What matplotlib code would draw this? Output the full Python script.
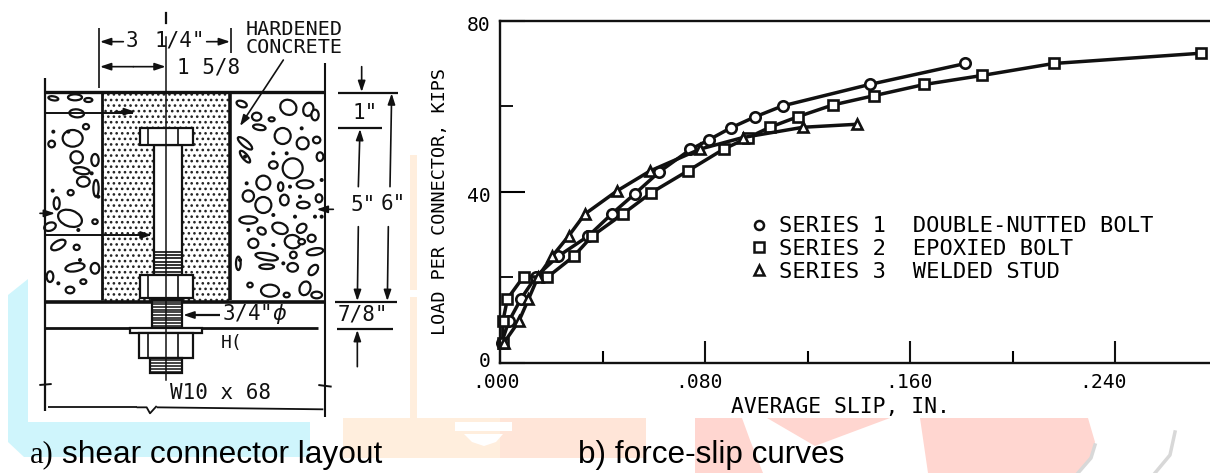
import matplotlib
matplotlib.use('Agg')
import matplotlib.pyplot as plt
from matplotlib.patches import Ellipse, Polygon, Rectangle
from matplotlib.lines import Line2D
from matplotlib.ticker import MultipleLocator
from matplotlib.transforms import ScaledTranslation

MONO = 'DejaVu Sans Mono'
plt.rcParams['hatch.linewidth'] = 1.1

# curvas carga-deslizamiento
slip_1 = [.0006, .0034, .0082, .0140, .0226, .0345, .0437, .0527, .0622, .0743,
          .0816, .0902, .0994, .1103, .1442, .1816]
load_1 = [4.7, 9.7, 15.0, 20.2, 24.9, 29.7, 34.9, 39.6, 44.7, 49.9, 52.2, 55.0,
          57.5, 60.1, 65.1, 70.0]
slip_2 = [.0011, .0011, .0029, .0092, .0184, .0287, .0360, .0481, .0590, .0733,
          .0873, .0969, .1053, .1164, .1298, .1461, .1656, .1881, .2160, .2735]
load_2 = [4.7, 9.7, 15.0, 20.2, 20.0, 24.9, 29.7, 34.9, 39.8, 44.9, 50.0, 52.7,
          55.1, 57.6, 60.3, 62.5, 65.1, 67.2, 70.0, 72.4]
slip_3 = [.0015, .0073, .0111, .0149, .0203, .0268, .0331, .0456, .0586, .0781,
          .0948, .1183, .1394]
load_3 = [4.7, 9.7, 14.9, 20.2, 24.9, 29.7, 34.8, 40.2, 44.9, 50.0, 52.7, 55.1, 55.8]

series_labels = ['SERIES 1  DOUBLE-NUTTED BOLT', 'SERIES 2  EPOXIED BOLT', 'SERIES 3  WELDED STUD']
series_markers = ['o', 's', '^']

x_major = [0, .08, .16, .24]
x_major_labels = ['.000', '.080', '.160', '.240']
y_major = [0, 40, 80]

# aridos del hormigon: x, y, ancho, alto, angulo (coordenadas del dibujo)
stones = [
    (225, 292, 42, 18, 0), (160, 295, 30, 12, 10), (230, 340, 44, 24, 5), (265, 300, 24, 12, 0),
    (218, 415, 60, 50, 0), (258, 380, 18, 16, 0), (155, 432, 20, 20, 0), (230, 472, 38, 36, 30),
    (245, 512, 48, 20, 10), (250, 545, 38, 30, 0), (285, 480, 22, 36, 0), (212, 578, 18, 16, 0),
    (210, 655, 74, 48, 20), (150, 680, 36, 24, -20), (285, 665, 16, 14, 0), (170, 610, 18, 36, 0),
    (175, 735, 48, 24, -30), (230, 742, 18, 16, 0), (225, 802, 58, 24, -10), (285, 805, 26, 32, 0),
    (250, 845, 18, 14, 0), (210, 870, 26, 20, 0), (150, 830, 20, 32, 0), (288, 565, 16, 50, 0),
    (865, 322, 50, 44, 30), (925, 328, 30, 40, 15), (770, 350, 28, 24, 0), (725, 312, 32, 18, 20),
    (848, 408, 48, 48, 0), (908, 430, 36, 36, 20), (778, 382, 38, 16, 10), (815, 358, 18, 12, 0),
    (878, 505, 60, 60, 30), (915, 553, 50, 24, 0), (790, 548, 42, 42, 0), (842, 560, 16, 26, 0),
    (745, 588, 34, 34, 0), (790, 615, 48, 48, 0), (853, 600, 26, 32, 0), (910, 615, 38, 20, 0),
    (745, 660, 54, 22, 0), (840, 685, 48, 32, 20), (905, 685, 32, 24, -40), (785, 693, 26, 20, 30),
    (878, 725, 48, 40, 10), (935, 715, 24, 22, 0), (760, 730, 30, 28, 0), (945, 755, 50, 20, -10),
    (800, 770, 68, 20, 10), (880, 765, 20, 20, 0), (800, 800, 44, 14, 0), (878, 802, 32, 26, 0),
    (940, 810, 36, 22, -50), (810, 872, 54, 36, 0), (915, 865, 32, 42, 20), (750, 855, 16, 14, 0),
    (950, 885, 32, 20, 0), (860, 885, 18, 14, 0), (735, 470, 16, 44, -40), (735, 430, 54, 18, 40),
    (945, 345, 22, 32, 0), (820, 495, 26, 22, 0), (960, 470, 20, 26, 0), (950, 420, 22, 20, 0),
    (905, 725, 20, 16, 0), (715, 790, 14, 40, 0), (957, 595, 20, 24, 0),
]
grains = [
    (160, 395), (275, 520), (235, 690), (158, 572), (205, 395), (295, 590), (240, 780), (175, 850),
    (740, 550), (820, 460), (860, 460), (945, 650), (820, 645), (885, 650), (850, 790), (745, 690),
    (820, 735), (965, 540), (735, 470), (905, 385), (720, 780), (965, 650), (900, 590), (870, 560),
]

fig = plt.figure(figsize=(12.1, 4.73), dpi=100, facecolor='white')

# fondo: manchas de la marca de agua
bg = fig.add_axes([0, 0, 1, 1], zorder=0)
bg.set_xlim(0, 1210)
bg.set_ylim(473, 0)
bg.axis('off')
bg.add_patch(Polygon([(28, 279), (8, 295), (8, 442), (24, 457), (310, 457), (310, 422), (28, 422)],
                     fc='#cff5fc', ec='none'))
bg.add_patch(Rectangle((343, 418), 200, 40, fc='#ffeedd', ec='none'))
bg.add_patch(Rectangle((500, 418), 146, 40, fc='#ffe5d8', ec='none'))
bg.add_patch(Rectangle((410, 155), 7, 135, fc='#ffeedd', ec='none'))
bg.add_patch(Rectangle((410, 297), 7, 125, fc='#ffeedd', ec='none'))
bg.add_patch(Rectangle((455, 422), 57, 9, fc='white', ec='none'))
bg.add_patch(Polygon([(464, 434), (503, 434), (496, 442), (484, 446), (472, 442)], fc='white', ec='none'))
bg.add_patch(Polygon([(695, 418), (742, 418), (750, 440), (763, 473), (695, 473)], fc='#ffd6d0', ec='none'))
bg.add_patch(Polygon([(767, 418), (890, 418), (815, 446)], fc='#ffd6d0', ec='none'))
bg.add_patch(Polygon([(920, 418), (1088, 418), (1095, 442), (1090, 458), (1078, 473), (928, 473)],
                     fc='#ffd6d0', ec='none'))
bg.plot([1095, 1091, 1078], [445, 458, 473], color='#d8d8d8', lw=2.5)
bg.plot([1175, 1170, 1155], [432, 455, 473], color='#d8d8d8', lw=2.5)

# b) curvas
ax = fig.add_axes([500 / 1210, 1 - 363 / 473, 710 / 1210, (363 - 20.7) / 473], zorder=3)
ax.patch.set_alpha(0)
for s, l, m in zip([slip_1, slip_2, slip_3], [load_1, load_2, load_3], series_markers):
    ax.plot(s, l, color='#111111', lw=2.5, marker=m, ms=7.5, mfc='white', mec='#111111', mew=1.9,
            clip_on=False)
ax.set_xlim(0, .277)
ax.set_ylim(0, 80)
ax.spines['right'].set_visible(False)
for s in ['top', 'left', 'bottom']:
    ax.spines[s].set_linewidth(1.7)
    ax.spines[s].set_color('#111111')
ax.set_xticks(x_major, x_major_labels, fontfamily=MONO, fontsize=14.2)
ax.set_yticks(y_major, ['0', '40', '80'], fontfamily=MONO, fontsize=14.2)
ax.xaxis.set_minor_locator(MultipleLocator(.04))
ax.yaxis.set_minor_locator(MultipleLocator(20))
ax.tick_params(axis='x', which='major', direction='in', length=16, width=1.5, pad=7, color='#111111')
ax.tick_params(axis='x', which='minor', direction='in', length=9, width=1.5)
ax.tick_params(axis='y', which='major', direction='in', length=18, width=1.5, pad=7)
ax.tick_params(axis='y', which='minor', direction='in', length=9, width=1.3)

# los rotulos del original no caen justo bajo sus marcas (desplazamientos en pixeles)
for lab, dx in zip(ax.get_xticklabels(), [-4, -6, -1, -12]):
    lab.set_transform(lab.get_transform() + ScaledTranslation(dx / 100, 0, fig.dpi_scale_trans))
for lab, dy in zip(ax.get_yticklabels(), [4, -3, -3]):
    lab.set_transform(lab.get_transform() + ScaledTranslation(0, dy / 100, fig.dpi_scale_trans))

ax.set_xlabel('AVERAGE SLIP, IN.', fontfamily=MONO, fontsize=15.4)
ax.xaxis.set_label_coords((840 - 500) / 710, -(397 - 363) / 342.3)
ax.set_ylabel('LOAD PER CONNECTOR, KIPS', fontfamily=MONO, fontsize=13.3)
ax.yaxis.set_label_coords((449 - 500) / 710, (363 - 201) / 342.3)

handles = [Line2D([], [], ls='none', marker=m, ms=6.5, mfc='white', mec='#111111', mew=1.8)
           for m in series_markers]
ax.legend(handles, series_labels, frameon=False, prop={'family': MONO, 'size': 15.9},
          loc='center left', bbox_to_anchor=((748 - 500) / 710, (363 - 249) / 342.3),
          handlelength=1, handletextpad=.42, labelspacing=.12, borderpad=0, borderaxespad=0)

# a) esquema del conector, en coordenadas de 3x
dr = fig.add_axes([0, 0, 430 / 1210, 1], zorder=2)
dr.patch.set_alpha(0)
dr.set_xlim(0, 1290)
dr.set_ylim(1419, 0)
dr.axis('off')
INK = '#111111'


def line(xs, ys, lw=1.2, **kw):
    dr.plot(xs, ys, color=INK, lw=lw, solid_capstyle='butt', **kw)


def arrow(x0, y0, x1, y1):
    dr.annotate('', xy=(x1, y1), xytext=(x0, y0),
                arrowprops=dict(arrowstyle='-|>,head_width=.22,head_length=.65', color=INK, lw=1.2,
                                shrinkA=0, shrinkB=0))


def box(x, y, w, h, fc='white', lw=1.6, z=4):
    dr.add_patch(Rectangle((x, y), w, h, fc=fc, ec=INK, lw=lw, zorder=z))


def label(x, y, s, size=13, **kw):
    dr.text(x, y, s, fontfamily=MONO, fontsize=size, color=INK, ha='center', va='center', zorder=7, **kw)


dr.add_patch(Rectangle((305, 275), 385, 630, fc='white', ec='#222222', hatch='...', lw=0, zorder=1))
for sx, sy, w, h, ang in stones:
    dr.add_patch(Ellipse((sx, sy), w, h, angle=ang, fc='white', ec=INK, lw=1.6, zorder=2))
for gx, gy in grains:
    dr.add_patch(Ellipse((gx, gy), 12, 12, fc=INK, ec='none', zorder=2))

# contornos de los bloques
line([135, 975], [275, 275], lw=2.4)
line([135, 975], [905, 905], lw=2.6)
line([135, 955], [985, 985], lw=2)
line([135, 135], [235, 1232], lw=1.6)
line([975, 975], [190, 1250], lw=1.5)
line([305, 305], [275, 900], lw=2)
line([690, 690], [275, 900], lw=2.6)
line([135, 305], [338, 338], lw=1.4)
line([305, 400], [338, 338], lw=1.4)
line([135, 450], [705, 705], lw=1.4)
arrow(345, 335, 405, 335)
arrow(390, 705, 455, 705)
arrow(120, 640, 165, 640)
arrow(1000, 628, 950, 628)

# perno, tuercas y roscas
box(462, 435, 84, 390, lw=1.6)
box(420, 385, 160, 50)
line([445, 445], [385, 435], zorder=5)
line([535, 535], [385, 435], zorder=5)
for ty in range(755, 825, 10):
    line([462, 546], [ty, ty], lw=1.2, zorder=5)
box(420, 825, 160, 70)
line([445, 445], [825, 895], zorder=5)
line([535, 535], [825, 895], zorder=5)
box(455, 900, 90, 85, z=4)
for ty in range(905, 985, 8):
    line([455, 545], [ty, ty], lw=1.1, zorder=5)
box(390, 985, 215, 13)
box(418, 998, 162, 77)
line([445, 445], [998, 1075], zorder=5)
line([535, 535], [998, 1075], zorder=5)
box(450, 1075, 95, 45)
for ty in range(1080, 1120, 9):
    line([450, 545], [ty, ty], lw=1.1, zorder=5)
dr.plot([498, 498], [40, 70], color=INK, lw=1.6)
dr.plot([498, 498], [110, 1140], color=INK, lw=1.1, zorder=6)

# cotas superiores
line([298, 298], [85, 265])
line([692, 692], [85, 160])
arrow(370, 125, 300, 125)
arrow(620, 125, 690, 125)
label(395, 122, '3', size=15)
label(540, 122, '1/4"', size=15)
arrow(400, 200, 300, 200)
arrow(400, 200, 497, 200)
label(625, 203, '1 5/8', size=15)
label(882, 88, 'HARDENED', size=14.5)
label(882, 142, 'CONCRETE', size=14.5)
arrow(850, 180, 720, 378)

# cotas de la derecha
line([1015, 1195], [278, 278], lw=1.6)
line([1015, 1145], [385, 385], lw=1.6)
line([1005, 1190], [905, 905], lw=1.6)
line([1010, 1180], [988, 988], lw=1.6)
arrow(1085, 200, 1085, 276)
arrow(1075, 560, 1080, 387)
arrow(1075, 680, 1072, 903)
arrow(1170, 560, 1175, 280)
arrow(1165, 680, 1162, 903)
arrow(1072, 1100, 1072, 990)
label(1095, 338, '1"', size=15)
label(1088, 615, '5"', size=15)
label(1180, 612, '6"', size=15)
label(1088, 942, '7/8"', size=15)

# etiquetas sueltas
line([565, 660], [945, 945], lw=1.6)
arrow(620, 945, 550, 945)
label(765, 942, '3/4"$\\phi$', size=15)
label(695, 1030, 'H(', size=13)
label(662, 1178, 'W10 x 68', size=15)
line([145, 410], [1222, 1222], lw=1.3)
line([470, 970], [1222, 1228], lw=1.3)
line([410, 440, 450, 470], [1222, 1222, 1240, 1218], lw=1.3)
line([118, 155], [1155, 1152], lw=1.4)
line([955, 995], [1155, 1160], lw=1.4)

# pies de figura
fig.text(30 / 1210, 1 - 455 / 473, 'a)', family='Liberation Serif', fontsize=22, va='center', zorder=5)
fig.text(62 / 1210, 1 - 455 / 473, 'shear connector layout', family='Liberation Sans', fontsize=22.8,
         va='center', zorder=5)
fig.text(578 / 1210, 1 - 455 / 473, 'b) force-slip curves', family='Liberation Sans', fontsize=22.7,
         va='center', zorder=5)

fig.savefig('out.png', dpi=100)
